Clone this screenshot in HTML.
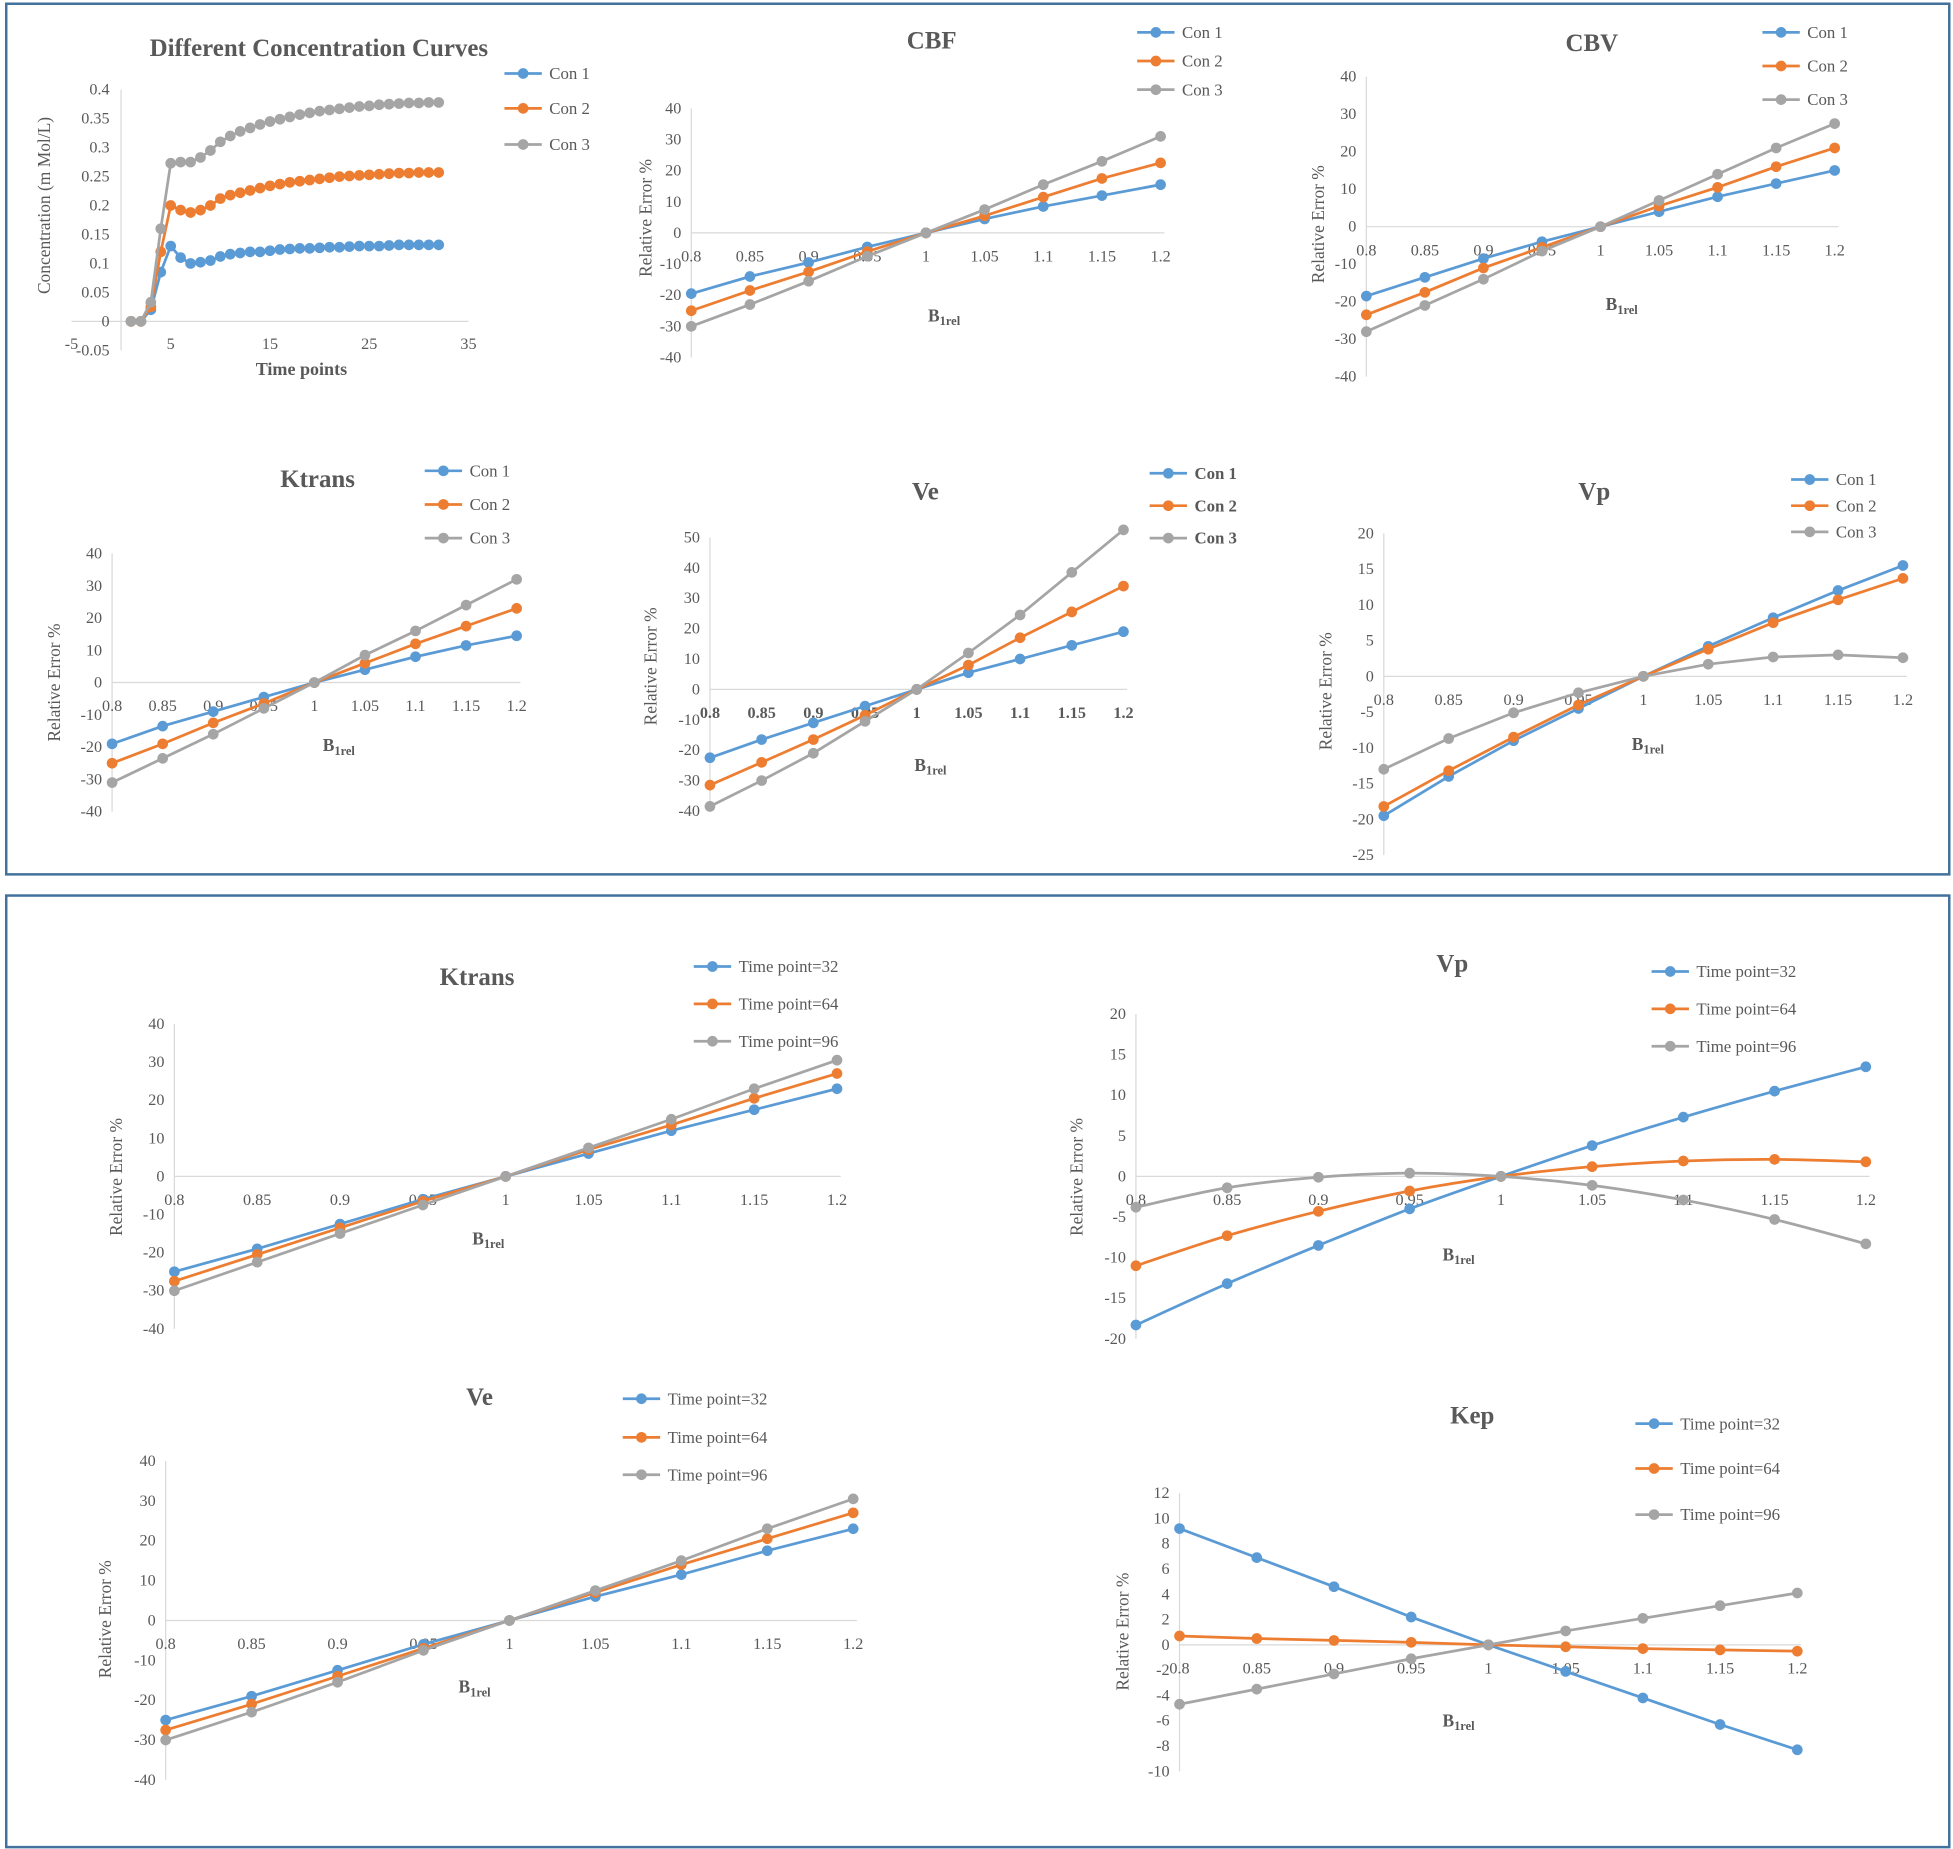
<!DOCTYPE html>
<html><head><meta charset="utf-8"><style>
html,body{margin:0;padding:0;background:#fff;}
svg{display:block;font-family:"Liberation Serif",serif;}
</style></head><body>
<svg id="root" width="1953" height="1849" viewBox="0 0 1568 1484.5" xmlns="http://www.w3.org/2000/svg">
<rect x="5" y="3" width="1560" height="699" fill="none" stroke="#41719C" stroke-width="2"/>
<rect x="5" y="719" width="1560" height="764" fill="none" stroke="#41719C" stroke-width="2"/>
</svg>
<script>
// ---- data ----
const timePoints = [1,2,3,4,5,6,7,8,9,10,11,12,13,14,15,16,17,18,19,20,21,22,23,24,25,26,27,28,29,30,31,32];
const conc1 = [0,0,0.02,0.085,0.13,0.11,0.1,0.102,0.105,0.112,0.116,0.118,0.12,0.12,0.122,0.124,0.125,0.126,0.126,0.127,0.128,0.128,0.129,0.13,0.13,0.13,0.131,0.132,0.132,0.132,0.132,0.132];
const conc2 = [0,0,0.025,0.12,0.2,0.192,0.188,0.192,0.2,0.212,0.218,0.222,0.226,0.23,0.234,0.237,0.24,0.242,0.244,0.246,0.248,0.25,0.251,0.252,0.253,0.254,0.255,0.256,0.256,0.257,0.257,0.257];
const conc3 = [0,0,0.033,0.16,0.273,0.275,0.275,0.283,0.295,0.31,0.32,0.328,0.334,0.34,0.345,0.349,0.353,0.357,0.36,0.363,0.365,0.367,0.369,0.371,0.372,0.374,0.375,0.376,0.377,0.377,0.378,0.378];
const concXTicks = ["-5","5","15","25","35"];
const concYTicks = ["0.4","0.35","0.3","0.25","0.2","0.15","0.1","0.05","0","-0.05"];
const b1Categories = ["0.8","0.85","0.9","0.95","1","1.05","1.1","1.15","1.2"];
const cbf1 = [-19.5,-14,-9.5,-4.5,0,4.5,8.5,12,15.5];
const cbf2 = [-25,-18.5,-12.5,-6,0,5.5,11.5,17.5,22.5];
const cbf3 = [-30,-23,-15.5,-7.5,0,7.5,15.5,23,31];
const cbv1 = [-18.5,-13.5,-8.5,-4,0,4,8,11.5,15];
const cbv2 = [-23.5,-17.5,-11,-5.5,0,5.5,10.5,16,21];
const cbv3 = [-28,-21,-14,-6.5,0,7,14,21,27.5];
const kt1 = [-19,-13.5,-9,-4.5,0,4,8,11.5,14.5];
const kt2 = [-25,-19,-12.5,-6.5,0,6,12,17.5,23];
const kt3 = [-31,-23.5,-16,-8,0,8.5,16,24,32];
const ve1 = [-22.5,-16.5,-11,-5.5,0,5.5,10,14.5,19];
const ve2 = [-31.5,-24,-16.5,-8.5,0,8,17,25.5,34];
const ve3 = [-38.5,-30,-21,-10.5,0,12,24.5,38.5,52.5];
const vp1 = [-19.5,-14,-9,-4.5,0,4.2,8.2,12,15.5];
const vp2 = [-18.2,-13.2,-8.5,-4,0,3.8,7.5,10.7,13.7];
const vp3 = [-13,-8.7,-5.1,-2.3,0,1.7,2.7,3,2.6];
const ktT32 = [-25,-19,-12.5,-6,0,6,12,17.5,23];
const ktT64 = [-27.5,-20.5,-13.5,-6.5,0,7,13.5,20.5,27];
const ktT96 = [-30,-22.5,-15,-7.5,0,7.5,15,23,30.5];
const vpT32 = [-18.3,-13.2,-8.5,-4,0,3.8,7.3,10.5,13.5];
const vpT64 = [-11,-7.3,-4.3,-1.8,0,1.2,1.9,2.1,1.8];
const vpT96 = [-3.8,-1.4,-0.1,0.4,0,-1.1,-2.9,-5.3,-8.3];
const veT32 = [-25,-19,-12.5,-6,0,6,11.5,17.5,23];
const veT64 = [-27.5,-21,-14,-7,0,7,14,20.5,27];
const veT96 = [-30,-23,-15.5,-7.5,0,7.5,15,23,30.5];
const kepT32 = [9.2,6.9,4.6,2.2,0,-2.1,-4.2,-6.3,-8.3];
const kepT64 = [0.7,0.5,0.35,0.2,0,-0.15,-0.3,-0.4,-0.5];
const kepT96 = [-4.7,-3.5,-2.3,-1.1,0,1.1,2.1,3.1,4.1];
const conNames = ["Con 1","Con 2","Con 3"];
const tpNames = ["Time point=32","Time point=64","Time point=96"];

const COLORS = ["#5B9BD5","#ED7D31","#A5A5A5"];
const NS = "http://www.w3.org/2000/svg";
const root = document.getElementById('root');
function mk(tag, parent, attrs){const e=document.createElementNS(NS,tag);for(const k in attrs)e.setAttribute(k,attrs[k]);parent.appendChild(e);return e;}
function txt(parent, x, y, s, size, anchor, weight, fill){const t=mk('text',parent,{x:x,y:y,'font-size':size,'text-anchor':anchor||'middle','font-weight':weight||'normal',fill:fill||'#595959'});t.textContent=s;return t;}
function smoothPath(pts){let d='M'+pts[0][0]+','+pts[0][1];for(let i=0;i<pts.length-1;i++){const p0=pts[Math.max(0,i-1)],p1=pts[i],p2=pts[i+1],p3=pts[Math.min(pts.length-1,i+2)];const c1x=p1[0]+(p2[0]-p0[0])/6,c1y=p1[1]+(p2[1]-p0[1])/6,c2x=p2[0]-(p3[0]-p1[0])/6,c2y=p2[1]-(p3[1]-p1[1])/6;d+=' C'+c1x+','+c1y+' '+c2x+','+c2y+' '+p2[0]+','+p2[1];}return d;}

// generic B1rel chart
function chart(c){
  const g=mk('g',root,{});
  
  
  const yS=v=>c.y0-(v)*c.pyu;
  const xS=i=>c.x0+i*c.step;
  const xEnd=xS(b1Categories.length-1)+3;
  // axes
  const ya=mk('line',g,{x1:c.x0,x2:c.x0,y1:yS(c.ymax),y2:yS(c.ymin),stroke:'#D9D9D9','stroke-width':1});
  
  
  const xa=mk('line',g,{x1:c.x0,x2:xEnd,y1:c.y0,y2:c.y0,stroke:'#D9D9D9','stroke-width':1});
  
  
  for(let v=c.ymin;v<=c.ymax+1e-9;v+=c.ystep){
    const t=txt(g,c.x0-8,yS(v)+4,String(v),13,'end');
    
    
  }
  b1Categories.forEach((s,i)=>{
    const t=txt(g,xS(i),c.y0+23,s,13,'middle',c.bold?'bold':'normal');
    
    
  });
  // series
  c.series.forEach((arr,si)=>{
    const pts=arr.map((v,i)=>[xS(i),yS(v)]);
    const p=mk('path',g,{d:c.smooth?smoothPath(pts):'M'+pts.map(p=>p.join(',')).join(' L'),fill:'none',stroke:COLORS[si],'stroke-width':2.2});
    
    
    pts.forEach(pt=>{
      const m=mk('circle',g,{cx:pt[0],cy:pt[1],r:4.3,fill:COLORS[si]});
      
      
    });
  });
  const ti=txt(g,c.tx,c.ty,c.title,20,'middle','bold','#595959');
  
  
  const yt=txt(g,0,0,'Relative Error %',14,'middle');
  yt.setAttribute('transform','translate('+c.ytx+','+c.yty+') rotate(-90)');
  
  
  const xt=mk('text',g,{x:c.bx,y:c.by,'font-size':14,'font-weight':'bold','text-anchor':'middle',fill:'#595959'});
  xt.innerHTML='B<tspan font-size="10" dy="3">1rel</tspan>';
  
  
  c.names.forEach((n,si)=>{
    const lg=mk('g',g,{});
    
    
    const y=c.ly[si];
    mk('line',lg,{x1:c.lx,x2:c.lx+30,y1:y,y2:y,stroke:COLORS[si],'stroke-width':2.2});
    mk('circle',lg,{cx:c.lx+15,cy:y,r:4.3,fill:COLORS[si]});
    txt(lg,c.lx+36,y+4.5,n,13.5,'start',c.bold?'bold':'normal');
  });
}

// concentration chart
(function(){
  const g=mk('g',root,{});
  
  
  const xS=v=>97.2+v*7.97, yS=v=>258-v*465;
  const ya=mk('line',g,{x1:97.2,x2:97.2,y1:yS(0.4),y2:yS(-0.05),stroke:'#D9D9D9'});
  
  
  const xa=mk('line',g,{x1:xS(-5),x2:xS(35),y1:258,y2:258,stroke:'#D9D9D9'});
  
  
  concYTicks.forEach(s=>{const t=txt(g,88,yS(parseFloat(s))+4,s,13,'end');
    
    });
  concXTicks.forEach(s=>{const t=txt(g,xS(parseFloat(s)),280,s,13,'middle');
    
    });
  [conc1,conc2,conc3].forEach((arr,si)=>{
    const pts=arr.map((v,i)=>[xS(timePoints[i]),yS(v)]);
    const p=mk('path',g,{d:'M'+pts.map(p=>p.join(',')).join(' L'),fill:'none',stroke:COLORS[si],'stroke-width':2.2});
    
    
    pts.forEach(pt=>{const m=mk('circle',g,{cx:pt[0],cy:pt[1],r:4.3,fill:COLORS[si]});
      
      });
  });
  const ti=txt(g,256,45,'Different Concentration Curves',20,'middle','bold');
  
  
  const yt=txt(g,0,0,'Concentration (m Mol/L)',14,'middle');
  yt.setAttribute('transform','translate(40,165) rotate(-90)');
  
  
  const xt=txt(g,242,301,'Time points',14.5,'middle','bold');
  
  
  conNames.forEach((n,si)=>{
    const lg=mk('g',g,{});
    
    
    const y=[59,87,116][si];
    mk('line',lg,{x1:405,x2:435,y1:y,y2:y,stroke:COLORS[si],'stroke-width':2.2});
    mk('circle',lg,{cx:420,cy:y,r:4.3,fill:COLORS[si]});
    txt(lg,441,y+4.5,n,13.5,'start');
  });
})();

chart({name:'cbf-chart',title:'CBF',tx:748,ty:39,x0:555,step:47.1,y0:187,pyu:2.5,ymin:-40,ymax:40,ystep:10,series:[cbf1,cbf2,cbf3],names:conNames,lx:913,ly:[26,49,72],ytx:523,yty:175,bx:758,by:258});
chart({name:'cbv-chart',title:'CBV',tx:1278,ty:41,x0:1097,step:47,y0:182,pyu:3.01,ymin:-40,ymax:40,ystep:10,series:[cbv1,cbv2,cbv3],names:conNames,lx:1415,ly:[26,53,80],ytx:1063,yty:180,bx:1302,by:249});
chart({name:'ktrans-con-chart',title:'Ktrans',tx:255,ty:391,x0:90,step:40.6,y0:548,pyu:2.59,ymin:-40,ymax:40,ystep:10,series:[kt1,kt2,kt3],names:conNames,lx:341,ly:[378,405,432],ytx:48,yty:548,bx:272,by:603});
chart({name:'ve-con-chart',title:'Ve',tx:743,ty:401,x0:570,step:41.5,y0:553.5,pyu:2.44,ymin:-40,ymax:50,ystep:10,series:[ve1,ve2,ve3],names:conNames,lx:923,ly:[380,406,432],ytx:527,yty:535,bx:747,by:619,bold:true});
chart({name:'vp-con-chart',title:'Vp',tx:1280,ty:401,x0:1111,step:52.1,y0:543,pyu:5.74,ymin:-25,ymax:20,ystep:5,series:[vp1,vp2,vp3],names:conNames,lx:1438,ly:[385,406,427],ytx:1069,yty:555,bx:1323,by:602});
chart({name:'ktrans-time-chart',title:'Ktrans',tx:383,ty:791,x0:140,step:66.5,y0:944.5,pyu:3.06,ymin:-40,ymax:40,ystep:10,series:[ktT32,ktT64,ktT96],names:tpNames,lx:557,ly:[776,806,836],ytx:98,yty:945,bx:392,by:999});
chart({name:'vp-time-chart',title:'Vp',tx:1166,ty:780,x0:912,step:73.25,y0:944.5,pyu:6.52,ymin:-20,ymax:20,ystep:5,series:[vpT32,vpT64,vpT96],names:tpNames,lx:1326,ly:[780,810,840],ytx:869,yty:945,bx:1171,by:1012,smooth:true});
chart({name:'ve-time-chart',title:'Ve',tx:385,ty:1128,x0:133,step:69,y0:1301,pyu:3.2,ymin:-40,ymax:40,ystep:10,series:[veT32,veT64,veT96],names:tpNames,lx:500,ly:[1123,1154,1184],ytx:89,yty:1300,bx:381,by:1359});
chart({name:'kep-time-chart',title:'Kep',tx:1182,ty:1143,x0:947,step:62,y0:1320.6,pyu:10.15,ymin:-10,ymax:12,ystep:2,series:[kepT32,kepT64,kepT96],names:tpNames,lx:1313,ly:[1143,1179,1216],ytx:906,yty:1310,bx:1171,by:1386});
</script>
</body></html>
